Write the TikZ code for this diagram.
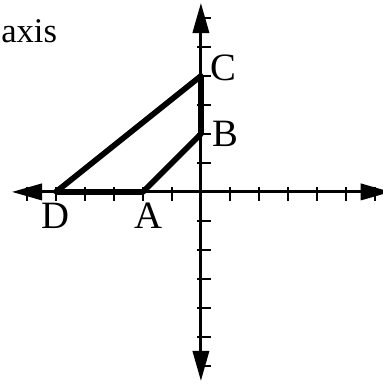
\documentclass[tikz,border=0pt]{standalone}
\usepackage{fontspec}
\setmainfont{Liberation Serif}
\usetikzlibrary{arrows.meta,positioning}
\tikzset{
  axisline/.style={{Triangle[length=5.2mm,width=2.8mm]}-{Triangle[length=5.2mm,width=2.8mm]},line width=1.5pt},
  tickmark/.style={line width=1.2pt},
  sideline/.style={line width=2.8pt,line cap=round,line join=round},
  ptlabel/.style={inner sep=0pt,font=\fontsize{19}{22}\selectfont},
  axislabel/.style={inner sep=0pt,font=\fontsize{17}{20}\selectfont},
}

\begin{document}
\begin{tikzpicture}[x=0.5cm,y=0.5cm]
			\useasboundingbox (-6.93,-6.66) rectangle (6.28,6.62);
			\coordinate (O) at (0,0);
			\coordinate (xl) at (-6.52,0); \coordinate (xr) at (6.55,0);
			\coordinate (yb) at (0,-6.52); \coordinate (yt) at (0,6.52);
			\coordinate (D) at (-5,0); \coordinate (A) at (-2,0);
			\coordinate (B) at (0,2); \coordinate (C) at (0,4);
			\foreach \k in {-6,...,-1,1,2,...,6} {
				\draw[tickmark] (\k,0.17) -- (\k,-0.31);
				\draw[tickmark] (-0.13,\k) -- (0.34,\k);
			}
			\draw[axisline] (xl) -- (xr);
			\draw[axisline] (yb) -- (yt);
			\draw[sideline] (A) -- (D) -- (C) -- (B) -- cycle;
			\node[ptlabel,right=0.15cm of C,yshift=0.14cm] (lc) {C};
			\node[ptlabel,right=0.19cm of B] (lb) {B};
			\node[ptlabel,below=0.19cm of D] (ld) {D};
			\node[ptlabel,below=0.19cm of A,xshift=0.09cm] (la) {A};
			\node[axislabel,anchor=base west] (ax) at (-6.9,5.17) {axis};
		\end{tikzpicture}
\end{document}
